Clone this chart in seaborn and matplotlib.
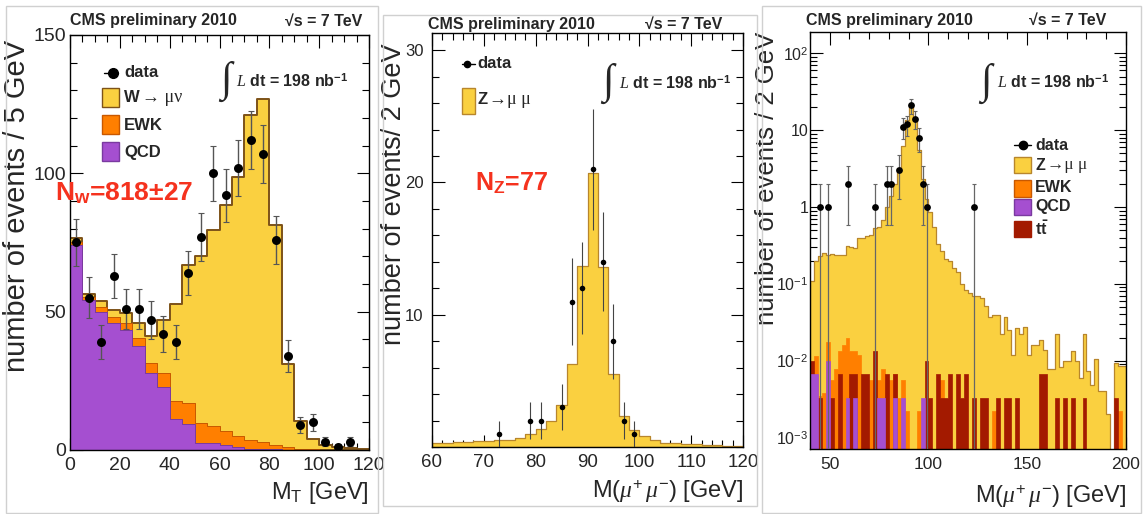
import numpy as np
import pandas as pd
import matplotlib
matplotlib.use("Agg")
import matplotlib.pyplot as plt
import seaborn as sns
from matplotlib.patches import Rectangle
from matplotlib.lines import Line2D
from matplotlib.ticker import MultipleLocator, FixedLocator, FixedFormatter, LogLocator, NullFormatter

# ---------------- data: W -> mu nu, transverse mass, 5 GeV bins (0-120 GeV) ----------------
mt_bin_edges = list(range(0, 125, 5))
w_qcd = [74.0, 54.2, 50.0, 45.8, 43.4, 37.6, 27.9, 22.9, 11.1, 9.3, 2.4, 2.4,
         1.7, 1.0, 0.4, 0.3, 0.2, 0.1, 0.05, 0.03, 0.02, 0.01, 0.0, 0.0]
w_ewk = [1.2, 1.2, 1.8, 2.2, 2.4, 2.8, 3.4, 4.8, 6.6, 7.6, 7.2, 6.3,
         5.2, 4.1, 3.2, 2.7, 1.5, 0.9, 0.45, 0.3, 0.15, 0.1, 0.05, 0.05]
w_signal = [1.3, 0.9, 2.2, 2.6, 3.8, 5.4, 9.9, 19.3, 35.1, 50.0, 60.7, 70.8,
            81.6, 93.7, 117.4, 123.7, 79.6, 30.1, 10.1, 3.6, 1.6, 0.9, 0.65, 0.45]
w_data = [75, 55, 39, 63, 51, 51, 47, 42, 39, 64, 77, 100,
          92, 102, 112, 107, 76, 34, 9, 10, 3, 1, 3, 0]

# ---------------- data: Z -> mu mu, dimuon mass, 2 GeV bins (40-200 GeV) ----------------
mz_bin_edges = list(range(40, 202, 2))
z_signal = [0.11, 0.20, 0.23, 0.25, 0.24, 0.245, 0.24, 0.235, 0.24, 0.31,
            0.30, 0.29, 0.39, 0.40, 0.42, 0.43, 0.53, 0.55, 0.68, 1.0,
            1.38, 2.0, 3.2, 6.3, 13.7, 20.7, 13.6, 5.5, 2.35, 1.29,
            0.86, 0.55, 0.335, 0.27, 0.208, 0.198, 0.162, 0.144, 0.101, 0.083,
            0.077, 0.069, 0.069, 0.065, 0.052, 0.0376, 0.039, 0.039, 0.022, 0.037,
            0.025, 0.012, 0.027, 0.022, 0.0278, 0.012, 0.016, 0.016, 0.0187, 0.0139,
            0.0078, 0.0078, 0.022, 0.0082, 0.0098, 0.0098, 0.0132, 0.0098, 0.006, 0.022,
            0.0074, 0.0049, 0.0104, 0.004, 0.004, 0.002, 0.0, 0.0094, 0.0085, 0.0085]
z_ewk = [0.0, 0.0117, 0.0035, 0.0038, 0.0177, 0.0056, 0.0078, 0.0135, 0.016, 0.02,
         0.0135, 0.0135, 0.012, 0.0022, 0.0022, 0.0056, 0.0056, 0.0056, 0.0078, 0.0056,
         0.0056, 0.0067, 0.0033, 0.0056, 0.0022, 0.0, 0.0, 0.0022, 0.0, 0.0,
         0.0, 0.0, 0.0, 0.0056, 0.0, 0.0, 0.0, 0.0, 0.0, 0.0,
         0.0, 0.0, 0.0, 0.0, 0.0, 0.0, 0.0022, 0.0, 0.0, 0.0,
         0.0, 0.0, 0.0, 0.0, 0.0, 0.0, 0.0, 0.0, 0.0, 0.0,
         0.0, 0.0, 0.0, 0.0, 0.0, 0.0, 0.0, 0.0, 0.0, 0.0,
         0.0, 0.0, 0.0, 0.0, 0.0, 0.0, 0.0, 0.0, 0.0022, 0.0]
z_qcd = [0.0067, 0.0067, 0.0, 0.0, 0.0098, 0.0, 0.0, 0.0, 0.0, 0.0033,
         0.0, 0.0033, 0.0, 0.0, 0.0, 0.0, 0.0, 0.0033, 0.0033, 0.0,
         0.0, 0.0033, 0.0, 0.0033, 0.0, 0.0, 0.0, 0.0, 0.0033, 0.0,
         0.0, 0.0, 0.0, 0.0, 0.0, 0.0, 0.0, 0.0, 0.0, 0.0,
         0.0, 0.0, 0.0, 0.0, 0.0, 0.0, 0.0, 0.0, 0.0, 0.0,
         0.0, 0.0, 0.0, 0.0, 0.0, 0.0, 0.0, 0.0, 0.0, 0.0,
         0.0, 0.0, 0.0, 0.0, 0.0, 0.0, 0.0, 0.0, 0.0, 0.0,
         0.0, 0.0, 0.0, 0.0, 0.0, 0.0, 0.0, 0.0, 0.0, 0.0]
z_ttbar = [0.01, 0.0, 0.0033, 0.0, 0.0, 0.0033, 0.0, 0.0067, 0.0, 0.0,
           0.0067, 0.0067, 0.0, 0.0067, 0.0067, 0.0, 0.0133, 0.0, 0.0, 0.0067,
           0.0, 0.0067, 0.0, 0.0, 0.0, 0.0, 0.0, 0.0, 0.0, 0.01,
           0.0033, 0.0, 0.0067, 0.0033, 0.0033, 0.0067, 0.0, 0.0067, 0.0033, 0.0067,
           0.0, 0.0033, 0.0, 0.0033, 0.0033, 0.0, 0.0, 0.0033, 0.0, 0.0033,
           0.0033, 0.0, 0.0033, 0.0, 0.0, 0.0, 0.0, 0.0, 0.0067, 0.0067,
           0.0, 0.0, 0.0033, 0.0, 0.0033, 0.0, 0.0033, 0.0, 0.0, 0.0033,
           0.0, 0.0, 0.0, 0.0, 0.0, 0.0, 0.0, 0.0033, 0.0, 0.0]
z_data_mass = [45, 49, 59, 73, 79, 81, 85, 87, 89, 91, 93, 95, 97, 99, 123]
z_data_count = [1, 1, 2, 1, 2, 2, 3, 11, 12, 21, 14, 8, 2, 1, 1]

log_ticks = [1e-3, 1e-2, 1e-1, 1, 10, 100]
log_tick_labels = [r'$10^{-3}$', r'$10^{-2}$', r'$10^{-1}$', '1', '10', r'$10^{2}$']

# ---------------- style ----------------
sns.set_style("ticks")
plt.rcParams['font.family'] = ['Liberation Sans', 'DejaVu Sans']
plt.rcParams['mathtext.fontset'] = 'custom'
plt.rcParams['mathtext.rm'] = 'Liberation Sans'
plt.rcParams['mathtext.it'] = 'Liberation Serif:italic'
plt.rcParams['mathtext.bf'] = 'Liberation Sans:bold'
plt.rcParams['mathtext.sf'] = 'Liberation Sans'
plt.rcParams['axes.linewidth'] = 1.0

YELLOW = '#fad040'
YEL_EDGE = '#b8862c'
BROWN = '#7d5218'
ORANGE = '#ff7f00'
OR_EDGE = '#c85800'
PURPLE = '#a54fd0'
PU_EDGE = '#7a3aa0'
DARKRED = '#a31a00'
RED_TXT = '#f5321e'

W_PX, H_PX = 1144, 514
fig = plt.figure(figsize=(W_PX / 100, H_PX / 100), dpi=100)
fig.patch.set_facecolor('white')


def fx(x):
    return x / W_PX


def fy(y):
    return 1 - y / H_PX


def add_axes_px(left, top, right, bottom):
    return fig.add_axes([fx(left), fy(bottom), (right - left) / W_PX, (bottom - top) / H_PX])


def frame_px(x0, y0, x1, y1):
    fig.patches.append(Rectangle((fx(x0), fy(y1)), (x1 - x0) / W_PX, (y1 - y0) / H_PX,
                                 transform=fig.transFigure, fill=False,
                                 edgecolor='#d0d0d0', lw=1.0, zorder=0))


def legend_box(x0, y0, x1, y1, fc, ec):
    fig.patches.append(Rectangle((fx(x0), fy(y1)), (x1 - x0) / W_PX, (y1 - y0) / H_PX,
                                 transform=fig.transFigure, facecolor=fc,
                                 edgecolor=ec, lw=1.0, zorder=5))


def legend_data(xl, xr, xm, y, ms):
    fig.lines.append(Line2D([fx(xl), fx(xr)], [fy(y), fy(y)], transform=fig.transFigure,
                            color='black', lw=1.0, zorder=5))
    fig.lines.append(Line2D([fx(xm)], [fy(y)], transform=fig.transFigure, marker='o',
                            color='black', markersize=ms, lw=0, zorder=6))


def ftext(x, y, s, **kw):
    kw.setdefault('va', 'center')
    kw.setdefault('ha', 'left')
    return fig.text(fx(x), fy(y), s, **kw)


def style_ticks(ax, xsize, ysize, xpad, ypad):
    ax.tick_params(which='both', direction='in', top=True, right=True,
                   width=0.8, color='black')
    ax.tick_params(which='major', length=9)
    ax.tick_params(which='minor', length=5)
    ax.tick_params(axis='x', labelsize=xsize, pad=xpad)
    ax.tick_params(axis='y', labelsize=ysize, pad=ypad)
    for sp in ax.spines.values():
        sp.set_color('black')
        sp.set_linewidth(1.0)
        sp.set_visible(True)


def step_hist(ax, edges, values, fc, ec, lw):
    edges = [float(e) for e in edges]
    centers = [(a + b) / 2 for a, b in zip(edges[:-1], edges[1:])]
    df = pd.DataFrame({'x': centers, 'w': [float(v) for v in values]})
    sns.histplot(data=df, x='x', weights='w', bins=edges,
                 element='step', fill=True, color=fc, alpha=1, edgecolor=ec,
                 linewidth=lw, ax=ax, legend=False)


# panel frames
frame_px(6, 6, 378, 513)
frame_px(383, 15, 757, 506)
frame_px(762, 6, 1141, 513)

# ================= Panel 1: W -> mu nu =================
ax1 = add_axes_px(70, 35, 369, 450)
qcd = np.array(w_qcd)
ewk = np.array(w_ewk)
sig = np.array(w_signal)
step_hist(ax1, mt_bin_edges, qcd + ewk + sig, YELLOW, BROWN, 1.4)
step_hist(ax1, mt_bin_edges, qcd + ewk, ORANGE, OR_EDGE, 0.7)
step_hist(ax1, mt_bin_edges, qcd, PURPLE, PU_EDGE, 0.7)

mt_edges = np.array(mt_bin_edges, dtype=float)
mt_centers = (mt_edges[:-1] + mt_edges[1:]) / 2
wd = np.array(w_data, dtype=float)
m = wd > 0
ax1.errorbar(mt_centers[m], wd[m], yerr=np.sqrt(wd[m]), fmt='none', ecolor='#555555',
             elinewidth=1.0, capsize=2, capthick=0.8, zorder=4)
sns.scatterplot(x=mt_centers[m], y=wd[m], color='black', s=42, linewidth=0,
                zorder=5, ax=ax1, legend=False)

ax1.set_xlim(0, 120)
ax1.set_ylim(0, 150)
ax1.xaxis.set_major_locator(MultipleLocator(20))
ax1.xaxis.set_minor_locator(MultipleLocator(5))
ax1.yaxis.set_major_locator(MultipleLocator(50))
ax1.yaxis.set_minor_locator(MultipleLocator(10))
style_ticks(ax1, 14, 14, 5, 3)
ax1.set_xlabel(r'M$_{\mathrm{T}}$ [GeV]', fontsize=17, loc='right')
ax1.xaxis.set_label_coords(1.0, -0.072)
ax1.set_ylabel('number of events / 5 GeV', fontsize=21, loc='top')
ax1.yaxis.set_label_coords(-0.132, 0.988)

ftext(70, 21, 'CMS preliminary 2010', fontsize=11.5, weight='bold')
ftext(362, 21, '√s = 7 TeV', fontsize=11.5, weight='bold', ha='right')
ftext(226, 81, '∫', fontsize=30, family='Liberation Serif', ha='center')
ftext(236, 81, r'$L$ dt = 198 nb$^{\mathbf{-1}}$', fontsize=11.5, weight='bold')
ftext(55, 193, r'N$_{\mathbf{w}}$=818±27', fontsize=19, weight='bold', color=RED_TXT)

legend_data(104, 118, 113, 73, 7)
ftext(124, 73, 'data', fontsize=12, weight='bold')
legend_box(102, 88, 119, 107, YELLOW, BROWN)
ftext(124, 98, 'W', fontsize=12, weight='bold')
fig.text(fx(142), fy(98), '→ μν', fontsize=13, family='Liberation Serif', va='center')
legend_box(102, 115, 119, 134, ORANGE, OR_EDGE)
ftext(124, 125, 'EWK', fontsize=12, weight='bold')
legend_box(102, 142, 119, 161, PURPLE, PU_EDGE)
ftext(124, 152, 'QCD', fontsize=12, weight='bold')

# ================= Panel 2: Z -> mu mu (linear) =================
ax2 = add_axes_px(432, 33, 743, 447)
mz_edges = np.array(mz_bin_edges, dtype=float)
zsig = np.array(z_signal)
sel = (mz_edges[:-1] >= 60) & (mz_edges[1:] <= 120)
edges2 = list(np.append(mz_edges[:-1][sel], mz_edges[1:][sel][-1]))
step_hist(ax2, edges2, zsig[sel], YELLOW, YEL_EDGE, 0.9)

zm = np.array(z_data_mass, dtype=float)
zc = np.array(z_data_count, dtype=float)
s2 = (zm > 60) & (zm < 120)
ax2.errorbar(zm[s2], zc[s2], yerr=np.sqrt(zc[s2]), fmt='none', ecolor='#444444',
             elinewidth=0.8, capsize=0, zorder=4)
sns.scatterplot(x=zm[s2], y=zc[s2], color='black', s=16, linewidth=0, zorder=5,
                ax=ax2, legend=False)
ax2.set_xlim(60, 120)
ax2.set_ylim(0, 31.3)
ax2.xaxis.set_major_locator(MultipleLocator(10))
ax2.xaxis.set_minor_locator(MultipleLocator(2))
ax2.yaxis.set_major_locator(FixedLocator([10, 20, 30]))
ax2.yaxis.set_minor_locator(MultipleLocator(2))
style_ticks(ax2, 13.5, 12, 5, 6)
ax2.set_xlabel(r'M($\mu^{+}\,\mu^{-}$) [GeV]', fontsize=17, loc='right')
ax2.xaxis.set_label_coords(1.0, -0.075)
ax2.set_ylabel('number of events/ 2 GeV', fontsize=19.5, loc='top')
ax2.yaxis.set_label_coords(-0.08, 0.976)

ftext(428, 24, 'CMS preliminary 2010', fontsize=11.5, weight='bold')
ftext(722, 24, '√s = 7 TeV', fontsize=11.5, weight='bold', ha='right')
ftext(608, 83, '∫', fontsize=30, family='Liberation Serif', ha='center')
ftext(619, 83, r'$L$ dt = 198 nb$^{\mathbf{-1}}$', fontsize=11.5, weight='bold')
ftext(475, 183, r'N$_{\mathbf{Z}}$=77', fontsize=18, weight='bold', color=RED_TXT)

legend_data(462, 475, 467, 64, 4.5)
ftext(477, 64, 'data', fontsize=12, weight='bold')
legend_box(462, 88, 475, 114, YELLOW, YEL_EDGE)
ftext(477, 100, 'Z', fontsize=12, weight='bold')
fig.text(fx(489), fy(100), '→μ μ', fontsize=13, family='Liberation Serif', va='center')

# ================= Panel 3: Z -> mu mu (log) =================
ax3 = add_axes_px(810, 32, 1126, 449)
step_hist(ax3, mz_bin_edges, z_signal, YELLOW, YEL_EDGE, 0.9)
step_hist(ax3, mz_bin_edges, z_ewk, ORANGE, ORANGE, 0.5)
step_hist(ax3, mz_bin_edges, z_ttbar, DARKRED, DARKRED, 0.5)
step_hist(ax3, mz_bin_edges, z_qcd, PURPLE, PURPLE, 0.5)
ax3.set_yscale('log')
ax3.errorbar(zm, zc, yerr=np.sqrt(zc), fmt='none', ecolor='#666666',
             elinewidth=0.9, capsize=1.5, capthick=0.8, zorder=4)
sns.scatterplot(x=zm, y=zc, color='black', s=24, linewidth=0, zorder=5,
                ax=ax3, legend=False)
ax3.set_xlim(40, 200)
ax3.set_ylim(7.1e-4, 190)
ax3.xaxis.set_major_locator(MultipleLocator(50))
ax3.xaxis.set_minor_locator(MultipleLocator(10))
ax3.yaxis.set_major_locator(FixedLocator(log_ticks))
ax3.yaxis.set_major_formatter(FixedFormatter(log_tick_labels))
ax3.yaxis.set_minor_locator(LogLocator(base=10, subs=np.arange(2, 10)))
ax3.yaxis.set_minor_formatter(NullFormatter())
style_ticks(ax3, 12.5, 11.5, 6, 1)
ax3.set_xlabel(r'M($\mu^{+}\,\mu^{-}$) [GeV]', fontsize=17, loc='right')
ax3.xaxis.set_label_coords(1.0, -0.083)
ax3.set_ylabel('number of events / 2 GeV', fontsize=18.5, loc='top')
ax3.yaxis.set_label_coords(-0.098, 1.0)

ftext(806, 20, 'CMS preliminary 2010', fontsize=11.5, weight='bold')
ftext(1106, 20, '√s = 7 TeV', fontsize=11.5, weight='bold', ha='right')
ftext(986, 83, '∫', fontsize=30, family='Liberation Serif', ha='center')
ftext(997, 82, r'$L$ dt = 198 nb$^{\mathbf{-1}}$', fontsize=11.5, weight='bold')

legend_data(1014, 1031, 1023, 145, 6)
ftext(1035, 145, 'data', fontsize=11.5, weight='bold')
legend_box(1014, 157, 1031, 173, YELLOW, YEL_EDGE)
ftext(1035, 165, 'Z', fontsize=11.5, weight='bold')
fig.text(fx(1047), fy(165), '→μ μ', fontsize=12.5, family='Liberation Serif', va='center')
legend_box(1014, 180, 1031, 197, ORANGE, OR_EDGE)
ftext(1035, 188, 'EWK', fontsize=11.5, weight='bold')
legend_box(1014, 199, 1031, 215, PURPLE, PU_EDGE)
ftext(1035, 207, 'QCD', fontsize=11.5, weight='bold')
legend_box(1014, 221, 1031, 237, DARKRED, DARKRED)
ftext(1035, 229, r't$\mathbf{\bar{t}}$', fontsize=11.5, weight='bold')

fig.savefig('out.png', dpi=100, facecolor='white')
